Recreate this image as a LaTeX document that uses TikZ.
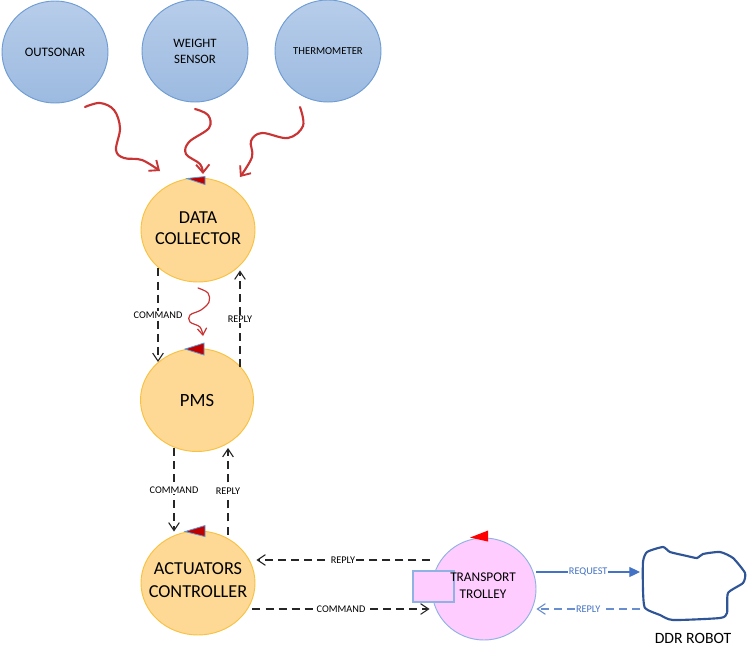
\documentclass[tikz,border=0pt]{standalone}
\usepackage{fontspec}
\setmainfont{Carlito}
\usetikzlibrary{shapes.geometric,arrows.meta,calc}
\definecolor{bluefillA}{HTML}{B7CDEA}
\definecolor{bluefillB}{HTML}{9CBAE0}
\definecolor{blueline}{HTML}{6E9CD3}
\definecolor{orfill}{HTML}{FDD995}
\definecolor{orline}{HTML}{F9C13E}
\definecolor{pinkfill}{HTML}{FFCCFF}
\definecolor{pinkline}{HTML}{8EB2E2}
\definecolor{squigred}{HTML}{C93434}
\definecolor{darkred}{HTML}{C00000}
\definecolor{tribl}{HTML}{5B9BD5}
\definecolor{reqblue}{HTML}{4472C4}
\definecolor{robotblue}{HTML}{2F5597}
\tikzset{
  sensor/.style={ellipse, draw=blueline, line width=0.7pt, top color=bluefillA, bottom color=bluefillB,
     minimum width=79.5pt, minimum height=76.5pt, inner sep=0pt},
  proc/.style={ellipse, draw=orline, line width=0.7pt, fill=orfill,
     minimum width=85.5pt, minimum height=78pt, inner sep=0pt},
  trolley/.style={ellipse, draw=pinkline, line width=0.7pt, fill=pinkfill,
     minimum width=78pt, minimum height=76.5pt, inner sep=0pt},
  txt/.style={inner sep=0pt, align=center, text=black},
  dashedarrow/.style={black!85, line width=0.9pt, dash pattern=on 6pt off 3.8pt,
     -{Straight Barb[length=6pt,width=8pt,line width=0.8pt]}},
  bluedash/.style={reqblue!80, line width=0.9pt, dash pattern=on 6pt off 3.8pt,
     -{Straight Barb[length=6pt,width=8pt,line width=0.8pt]}},
  reqarrow/.style={reqblue, line width=0.8pt, -{Triangle[length=8pt,width=7.5pt]}},
  lbl/.style={fill=white, inner sep=0.6pt, font=\fontsize{7.7}{9}\selectfont, text=black},
  bluelbl/.style={fill=white, inner sep=0.6pt, font=\fontsize{7.7}{9}\selectfont, text=reqblue},
  squig/.style={squigred, line width=1.6pt, line cap=round, line join=round,
     -{Straight Barb[length=6pt,width=10pt,line width=1.4pt]}},
  squigthin/.style={squigred, line width=0.9pt, line cap=round,
     -{Straight Barb[length=5pt,width=7pt,line width=0.9pt]}},
  flag/.style={fill=darkred, draw=tribl, line width=0.6pt, line join=miter},
}
\begin{document}
\begin{tikzpicture}[x=0.75pt,y=-0.75pt]
\useasboundingbox (0,0) rectangle (749,657);
\fill[white] (0,0) rectangle (749,657);

% sensors
\node[sensor] (OS) at (55,52) {};
\node[sensor] (WS) at (195,51) {};
\node[sensor] (TH) at (328,51) {};
\node[txt, font=\fontsize{9.7}{12}\selectfont] (OSt) at (OS.center) {OUTSONAR};
\node[txt, font=\fontsize{9.6}{12}\selectfont] (WSt) at (WS.center) {WEIGHT\\SENSOR};
\node[txt, font=\fontsize{8}{10}\selectfont] (THt) at (TH.center) {THERMOMETER};

% processes
\node[proc] (DC) at (198,230) {};
\node[proc, minimum width=84.75pt, minimum height=77.25pt] (PMS) at (197,400) {};
\node[proc] (AC) at (198,583) {};
\node[txt, font=\fontsize{13.7}{16}\selectfont] (DCt) at ($(DC.center)+(0,-2)$) {DATA\\COLLECTOR};
\node[txt, font=\fontsize{14}{16}\selectfont] (PMSt) at (PMS.center) {PMS};
\node[txt, font=\fontsize{13.7}{17}\selectfont] (ACt) at ($(AC.center)+(0,-3)$) {ACTUATORS\\CONTROLLER};

% trolley
\node[trolley] (TT) at (484,589) {};
\node[draw=pinkline, line width=0.8pt, fill=pinkfill, minimum width=30.75pt, minimum height=23.25pt, inner sep=0pt] (BOX) at (433.5,586.5) {};
\node[txt, font=\fontsize{10}{12.75}\selectfont] (TTL) at (483,586) {TRANSPORT\\TROLLEY};

% flags
\fill[flag] ($(DC.north)+(-11,1)$) -- ($(DC.north)+(7,-1)$) -- ($(DC.north)+(7,7)$) -- cycle;
\fill[flag] ($(PMS.north)+(-12,1)$) -- ($(PMS.north)+(7,-5)$) -- ($(PMS.north)+(7,7)$) -- cycle;
\fill[flag] ($(AC.north)+(-13,1)$) -- ($(AC.north)+(7,-5)$) -- ($(AC.north)+(7,6)$) -- cycle;
\fill[red] ($(TT.north)+(-14,0)$) -- ($(TT.north)+(4,-7)$) -- ($(TT.north)+(4,4)$) -- cycle;

% squiggles from sensors to data collector
\coordinate (osS) at (85,107);
\coordinate (osE) at (160,171);
\coordinate (wsS) at (195,109);
\coordinate (wsE) at (203,174);
\coordinate (thS) at (300,107);
\coordinate (thE) at (240,177);
\draw[squig] plot[smooth, tension=0.6] coordinates {(osS) (100,103) (114,110) (120,128) (116,150) (124,158) (142,160) (osE)};
\draw[squig] plot[smooth, tension=0.6] coordinates {(wsS) (208,115) (209,128) (189,142) (186,154) (200,164) (wsE)};
\draw[squig] plot[smooth, tension=0.6] coordinates {(thS) (303,126) (288,138) (262,133) (251,141) (252,157) (thE)};
\coordinate (msS) at (198,288);
\coordinate (msE) at (203,336);
\draw[squigthin] plot[smooth, tension=0.6] coordinates {(msS) (208,293) (209,302) (201,310) (190,315) (190,322) (200,327) (msE)};

% vertical dashed arrows
\draw[dashedarrow] ($(DC.south)+(-40,-14)$) -- node[lbl]{COMMAND} ($(PMS.north)+(-39,14)$);
\draw[dashedarrow] ($(PMS.north)+(43,19)$) -- node[lbl]{REPLY} ($(DC.south)+(42,-12)$);
\draw[dashedarrow] ($(PMS.south)+(-23,-4)$) -- node[lbl]{COMMAND} ($(AC.north)+(-24,1)$);
\draw[dashedarrow] ($(AC.north)+(30,4)$) -- node[lbl]{REPLY} ($(PMS.south)+(31,-4)$);

% horizontal dashed arrows
\draw[dashedarrow] ($(TT.west)+(-2,-29)$) -- node[lbl]{REPLY} ($(AC.east)+(1,-23)$);
\draw[dashedarrow] ($(AC.east)+(-3,26)$) -- node[lbl]{COMMAND} ($(TT.west)+(-2,20)$);

% robot
\draw[robotblue, line width=1.6pt, line join=round] plot[smooth cycle, tension=0.35] coordinates {
 (643,562) (647,552) (663,547) (670,552) (687,556) (697,558) (703,554) (720,552)
 (733,558) (745,573) (743,583) (728,593) (727,613) (720,618) (673,620) (660,615)
 (645,608) (643,590)};
\coordinate (robReq) at (640,572);
\coordinate (robRep) at (640,609);
\node[font=\fontsize{11.8}{14}\selectfont, inner sep=0pt] (DDR) at (693,638) {DDR ROBOT};

\draw[reqarrow] ($(TT.east)+(0,-17)$) -- node[bluelbl]{REQUEST} (robReq);
\draw[bluedash] (robRep) -- node[bluelbl]{REPLY} ($(TT.east)+(0,20)$);
\end{tikzpicture}
\end{document}
